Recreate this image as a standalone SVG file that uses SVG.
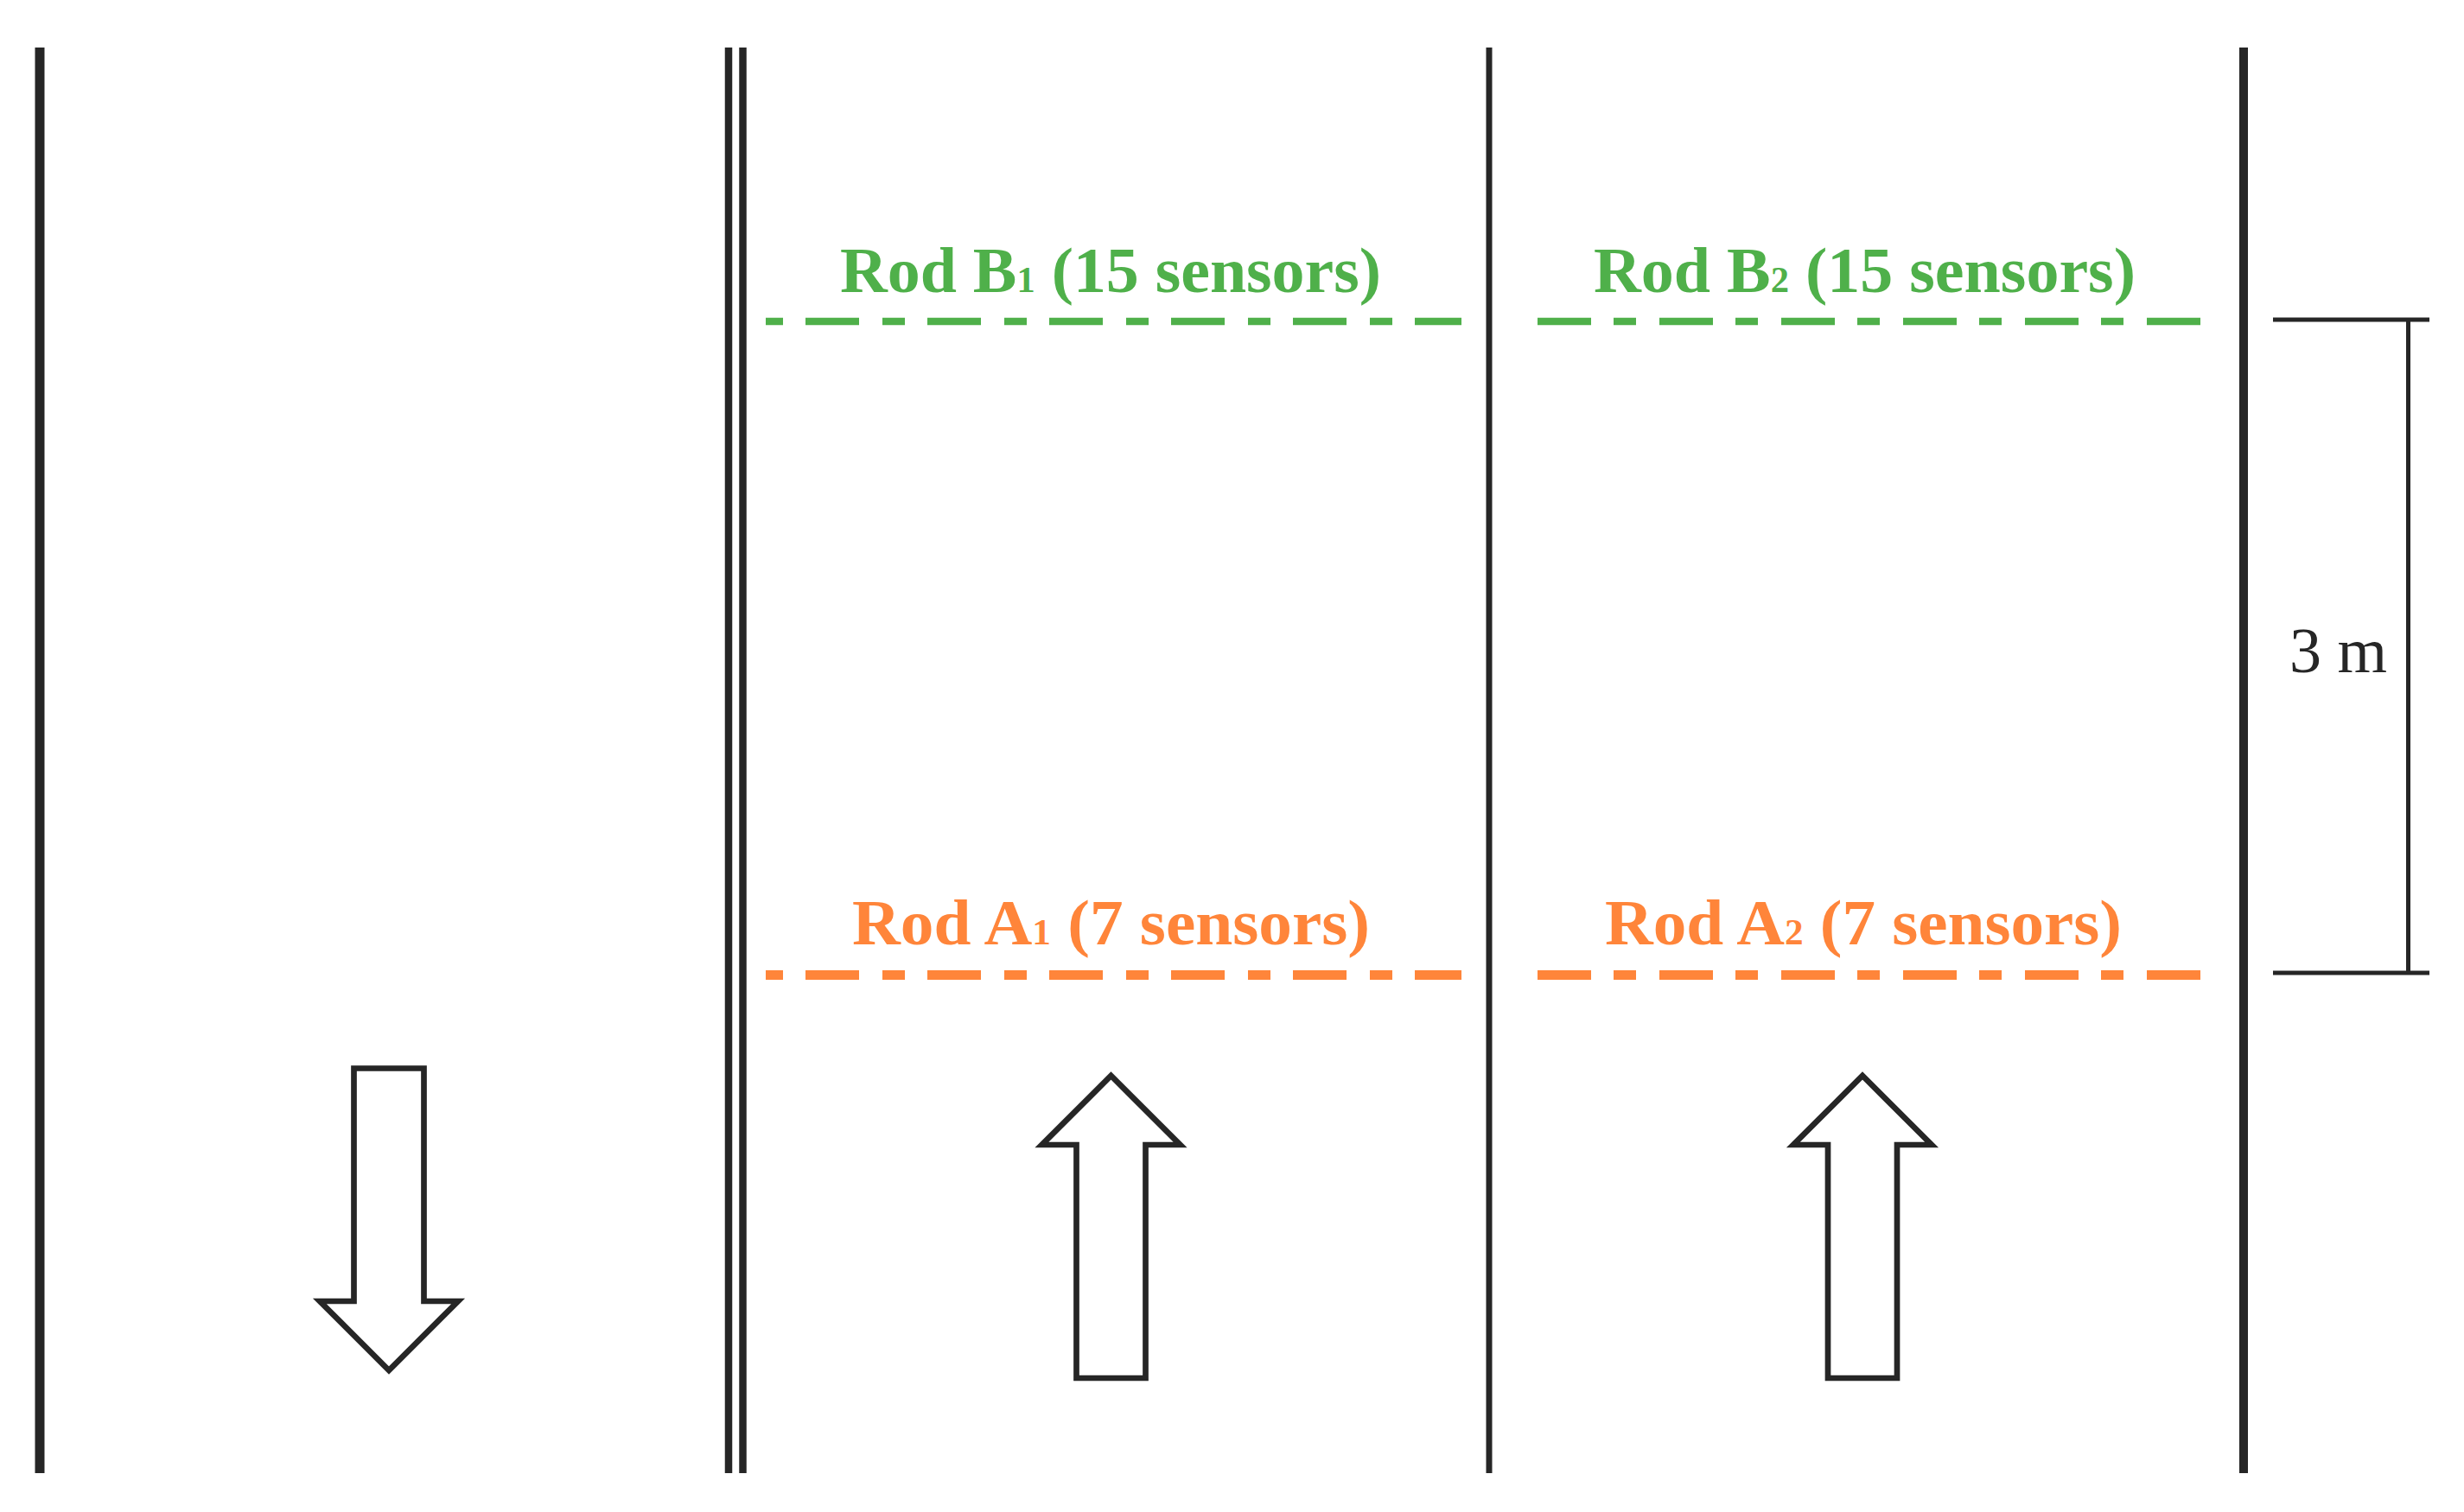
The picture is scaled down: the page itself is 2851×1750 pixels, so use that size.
<svg xmlns="http://www.w3.org/2000/svg" width="2851" height="1750" viewBox="0 0 2851 1750">
  <style>
    .wall { stroke: #262626; fill: none; }
    .dim { stroke: #262626; stroke-width: 5; fill: none; }
    .arrow { stroke: #262626; stroke-width: 6.7; fill: #ffffff; stroke-linejoin: miter; stroke-miterlimit: 10; }
    .rodB { stroke: #4FB04A; stroke-width: 8.7; fill: none; }
    .rodA { stroke: #FF853A; stroke-width: 11; fill: none; }
    .lblB { fill: #4FB04A; font-family: "Liberation Serif", "DejaVu Serif", serif; font-weight: bold; font-size: 75px; }
    .lblA { fill: #FF853A; font-family: "Liberation Serif", "DejaVu Serif", serif; font-weight: bold; font-size: 75px; }
    .sub { font-size: 42px; }
    .dimtxt { fill: #262626; font-family: "Liberation Serif", "DejaVu Serif", serif; font-size: 74px; }
  </style>
  <rect width="2851" height="1750" fill="#ffffff"/>

  <g id="walls">
    <line class="wall" x1="46" y1="55" x2="46" y2="1705" stroke-width="11"/>
    <line class="wall" x1="843" y1="55" x2="843" y2="1705" stroke-width="8.5"/>
    <line class="wall" x1="859.5" y1="55" x2="859.5" y2="1705" stroke-width="8.5"/>
    <line class="wall" x1="1723" y1="55" x2="1723" y2="1705" stroke-width="7"/>
    <line class="wall" x1="2596" y1="55" x2="2596" y2="1705" stroke-width="10"/>
  </g>

  <g id="rodB1">
    <line class="rodB" x1="886" y1="372" x2="1691" y2="372" stroke-dasharray="26 26 62 27" stroke-dashoffset="6"/>
    <text class="lblB" x="972" y="338" textLength="626" lengthAdjust="spacingAndGlyphs">Rod B<tspan class="sub">1</tspan> (15 sensors)</text>
  </g>
  <g id="rodB2">
    <line class="rodB" x1="1779" y1="372" x2="2547" y2="372" stroke-dasharray="62 26 26 27"/>
    <text class="lblB" x="1844" y="338" textLength="627" lengthAdjust="spacingAndGlyphs">Rod B<tspan class="sub">2</tspan> (15 sensors)</text>
  </g>
  <g id="rodA1">
    <line class="rodA" x1="886" y1="1128.5" x2="1691" y2="1128.5" stroke-dasharray="26 26 62 27" stroke-dashoffset="6"/>
    <text class="lblA" x="986" y="1093" textLength="599" lengthAdjust="spacingAndGlyphs">Rod A<tspan class="sub">1</tspan> (7 sensors)</text>
  </g>
  <g id="rodA2">
    <line class="rodA" x1="1779" y1="1128.5" x2="2547" y2="1128.5" stroke-dasharray="62 26 26 27"/>
    <text class="lblA" x="1857" y="1093" textLength="598" lengthAdjust="spacingAndGlyphs">Rod A<tspan class="sub">2</tspan> (7 sensors)</text>
  </g>

  <g id="dimension">
    <line class="dim" x1="2630" y1="370" x2="2811" y2="370"/>
    <line class="dim" x1="2630" y1="1126" x2="2811" y2="1126"/>
    <line class="dim" x1="2786.5" y1="370" x2="2786.5" y2="1126"/>
    <text class="dimtxt" x="2649" y="778">3 m</text>
  </g>

  <g id="arrow-down">
    <polygon class="arrow" points="409.5,1236.5 490.5,1236.5 490.5,1506 530,1506 450,1586 370,1506 409.5,1506"/>
  </g>
  <g id="arrow-up-1">
    <polygon class="arrow" points="1245.5,1595 1325.5,1595 1325.5,1325 1365.5,1325 1285.5,1245 1205.5,1325 1245.5,1325"/>
  </g>
  <g id="arrow-up-2">
    <polygon class="arrow" points="2115,1595 2195,1595 2195,1325 2235,1325 2155,1245 2075,1325 2115,1325"/>
  </g>
</svg>
